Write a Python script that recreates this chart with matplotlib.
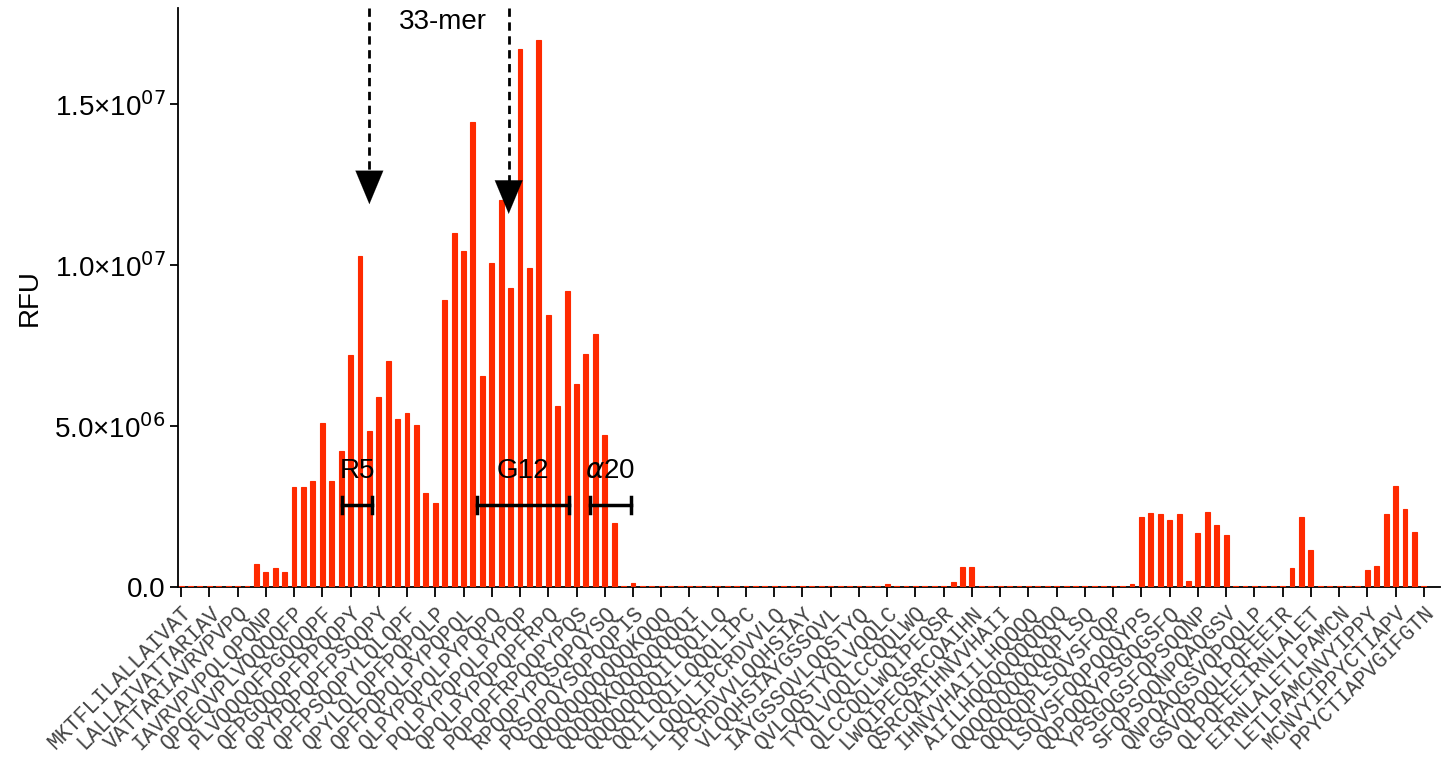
import numpy as np
import matplotlib
matplotlib.use('Agg')
import matplotlib.pyplot as plt

plt.rcParams['font.family'] = ['Liberation Sans', 'DejaVu Sans']

# peptide signal, units of 1e6 RFU, one value per peptide (0.03 = flat baseline dash)
z = 0.03
rfu = [z] * 8 + \
      [0.72, 0.45, 0.58, 0.45, 3.12, 3.10, 3.28, 5.10, 3.30, 4.24, 7.20, 10.30,
       4.84, 5.90, 7.04, 5.21, 5.42, 5.04, 2.92, 2.60, 8.91, 11.00,
       10.45, 14.45, 6.56, 10.06, 12.02, 9.30, 16.71, 9.91, 16.99, 8.45,
       5.62, 9.19, 6.30, 7.23, 7.86, 4.71, 1.99, z, 0.11] + [z] * 26 + \
      [0.10, z, z, z, z, z, z, 0.15, 0.62, 0.61] + [z] * 16 + \
      [0.08, 2.17, 2.30, 2.27, 2.08, 2.27, 0.17, 1.68, 2.32, 1.93, 1.60,
       z, z, z, z, z, z, 0.59, 2.17, 1.15, z, z, z, z, z,
       0.53, 0.64, 2.28, 3.15, 2.41, 1.70, z]

# every third peptide gets a label
peptides = ['MKTFLILALLAIVAT', 'LALLAIVATTARIAV', 'VATTARIAVRVPVPQ', 'IAVRVPVPQLQPQNP',
            'QPQEQVPLVQQQQFP', 'PLVQQQQFPGQQQPF', 'QFPGQQQPFPPQQPY', 'QPYPQPQPFPSQQPY',
            'QPFPSQQPYLQLQPF', 'QPYLQLQPFPQPQLP', 'QPFPQPQLPYPQPQL', 'QLPYPQPQLPYPQPQ',
            'PQLPYPQPQLPYPQP', 'QPQLPYPQPQPFRPQ', 'PQPQPFRPQQPYPQS', 'RPQQPYPQSQPQYSQ',
            'PQSQPQYSQPQQPIS', 'QQQQQQQQQQQKQQQ', 'QQQQQKQQQQQQQQI', 'QQQQQQQQILQQILQ',
            'QQILQQILQQQLIPC', 'ILQQQLIPCRDVVLQ', 'IPCRDVVLQQHSIAY', 'VLQQHSIAYGSSQVL',
            'IAYGSSQVLQQSTYQ', 'QVLQQSTYQLVQQLC', 'TYQLVQQLCCQQLWQ', 'QLCCQQLWQIPEQSR',
            'LWQIPEQSRCQAIHN', 'QSRCQAIHNVVHAII', 'IHNVVHAIILHQQQQ', 'AIILHQQQQQQQQQQ',
            'QQQQQQQQQQQPLSQ', 'QQQQQPLSQVSFQQP', 'LSQVSFQQPQQQYPS', 'QQPQQQYPSGQGSFQ',
            'YPSGQGSFQPSQQNP', 'SFQPSQQNPQAQGSV', 'QNPQAQGSVQPQQLP', 'GSVQPQQLPQFEEIR',
            'QLPQFEEIRNLALET', 'EIRNLALETLPAMCN', 'LETLPAMCNVYIPPY', 'MCNVYIPPYCTIAPV',
            'PPYCTIAPVGIFGTN']

# epitope brackets: name, first peptide, last peptide
epitopes = [('R5', 17.1, 20.3), ('G12', 31.4, 41.2), (r'$\alpha$20', 43.4, 47.8)]
arrow_x = [20.0, 34.8]
arrow_tip = [11.9, 11.6]

x = np.arange(len(rfu))
vals = np.array(rfu) * 1e6

fig = plt.figure(figsize=(14.5, 7.61), dpi=100)
ax = fig.add_axes([0.1228, 0.2287, 0.993 - 0.1228, 0.9895 - 0.2287])

ax.bar(x, vals, width=0.52, color='#ff2a00', edgecolor='#ff2a00', linewidth=0.8, zorder=3)

ax.set_xlim(-0.32, 133.7)
ax.set_ylim(0, 1.8e7)

ax.spines['top'].set_visible(False)
ax.spines['right'].set_visible(False)
ax.spines['left'].set_linewidth(1.3)
ax.spines['bottom'].set_linewidth(1.3)

ax.set_yticks([0, 5e6, 1e7, 1.5e7])
ax.set_yticklabels(['0.0', r'5.0×10$^{06}$', r'1.0×10$^{07}$', r'1.5×10$^{07}$'], fontsize=20)
ax.tick_params(axis='y', length=6, width=1.3, pad=3)

ax.set_xticks(x[::3])
ax.set_xticklabels(peptides, rotation=45, ha='right', va='top', rotation_mode='anchor',
                   fontsize=15.5, family='Liberation Mono', color='#444444')
ax.tick_params(axis='x', length=7, width=1.3, pad=4)

ax.set_ylabel('RFU', fontsize=20, labelpad=8)

# 33-mer arrows
for xa, tip in zip(arrow_x, arrow_tip):
    ax.plot([xa, xa], [1.8e7, tip * 1e6 + 0.7e6], color='black', lw=2, ls=(0, (3, 2)),
            zorder=5)
    ax.annotate('', xy=(xa, tip * 1e6), xytext=(xa, tip * 1e6 + 0.9e6),
                arrowprops=dict(arrowstyle='-|>,head_length=1.2,head_width=0.5',
                                mutation_scale=20, color='black', lw=0.1,
                                shrinkA=0, shrinkB=0), zorder=5)
ax.text(27.8, 17.55e6, '33-mer', fontsize=20, ha='center', va='center', zorder=5)

# epitope brackets
for name, a, b in epitopes:
    yb = 2.55e6
    ax.plot([a, b], [yb, yb], color='black', lw=2.5, zorder=5)
    ax.plot([a, a], [yb - 0.26e6, yb + 0.26e6], color='black', lw=2.5, zorder=5)
    ax.plot([b, b], [yb - 0.26e6, yb + 0.26e6], color='black', lw=2.5, zorder=5)
    ax.text((a + b) / 2, 3.6e6, name, fontsize=20, ha='center', va='center', zorder=5)

fig.savefig('out.png', dpi=100)
